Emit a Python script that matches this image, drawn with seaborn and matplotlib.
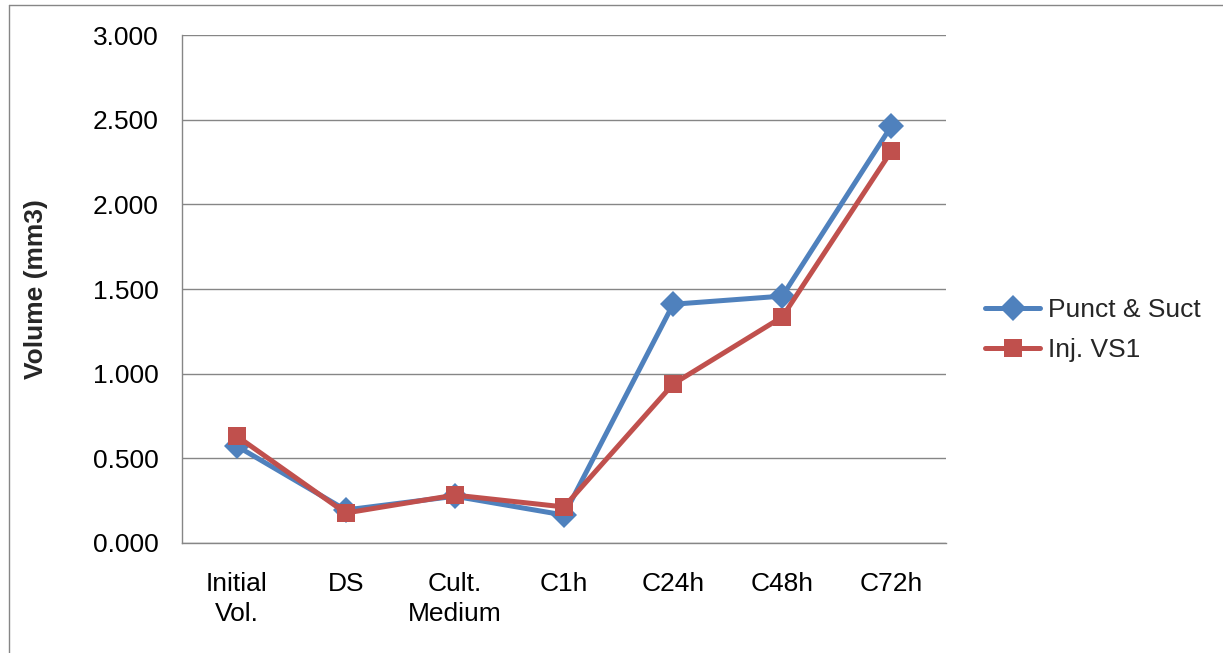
import numpy as np
import pandas as pd
import matplotlib
matplotlib.use("Agg")
import matplotlib.pyplot as plt
from matplotlib.ticker import FuncFormatter
from matplotlib.lines import Line2D
import seaborn as sns

# data
stages = ["Initial\nVol.", "DS", "Cult.\nMedium", "C1h", "C24h", "C48h", "C72h"]
punct_suct = [0.573, 0.195, 0.276, 0.165, 1.410, 1.458, 2.463]
inj_vs1 = [0.632, 0.177, 0.283, 0.213, 0.939, 1.335, 2.315]
series_names = ["Punct & Suct", "Inj. VS1"]

df = pd.DataFrame({
    "stage": stages * 2,
    "volume": punct_suct + inj_vs1,
    "series": [series_names[0]] * len(stages) + [series_names[1]] * len(stages),
})

sns.set_theme(style="white")
plt.rcParams["font.family"] = ["Liberation Sans", "DejaVu Sans"]

fig = plt.figure(figsize=(12.23, 6.53), dpi=100)
ax = fig.add_axes([182 / 1223, 1 - 543 / 653, 764 / 1223, 508 / 653])

sns.lineplot(data=df, x="stage", y="volume", hue="series", style="series",
             markers={"Punct & Suct": "D", "Inj. VS1": "s"}, dashes=False,
             palette={"Punct & Suct": "#4F81BD", "Inj. VS1": "#C0504D"},
             sort=False, linewidth=3.6, markersize=13.5, markeredgewidth=0,
             ax=ax)

ax.set_xlim(-0.5, len(stages) - 0.5)
ax.set_ylim(0, 3.0)
ax.set_yticks(np.arange(0, 3.01, 0.5))
ax.yaxis.set_major_formatter(FuncFormatter(lambda v, p: f"{v:.3f}"))
ax.grid(axis="y", color="#868686", linewidth=1.0)
ax.set_axisbelow(True)
for s in ["top", "right"]:
    ax.spines[s].set_visible(False)
for s in ["left", "bottom"]:
    ax.spines[s].set_color("#868686")
    ax.spines[s].set_linewidth(1.0)

fs = 19
ax.tick_params(axis="both", length=0, labelsize=fs, labelcolor="black")
ax.tick_params(axis="y", pad=17)
ax.tick_params(axis="x", pad=21)
for t in ax.get_xticklabels():
    t.set_linespacing(1.3)
ax.set_xlabel("")
ax.set_ylabel("Volume (mm3)", fontsize=fs, fontweight="bold", labelpad=32)

ax.legend(title=None, loc="center left", bbox_to_anchor=(1.051, 0.419),
          frameon=False, fontsize=fs, borderaxespad=0, borderpad=0,
          handlelength=2.1, handletextpad=0.3, labelspacing=0.6)

# outer chart-area border (left and top edges visible)
fig.add_artist(Line2D([8.5 / 1223, 8.5 / 1223], [0, 1 - 4.5 / 653],
                      transform=fig.transFigure, color="#868686", linewidth=1.0))
fig.add_artist(Line2D([8.5 / 1223, 1], [1 - 4.5 / 653, 1 - 4.5 / 653],
                      transform=fig.transFigure, color="#868686", linewidth=1.0))

fig.savefig("out.png", dpi=100)
